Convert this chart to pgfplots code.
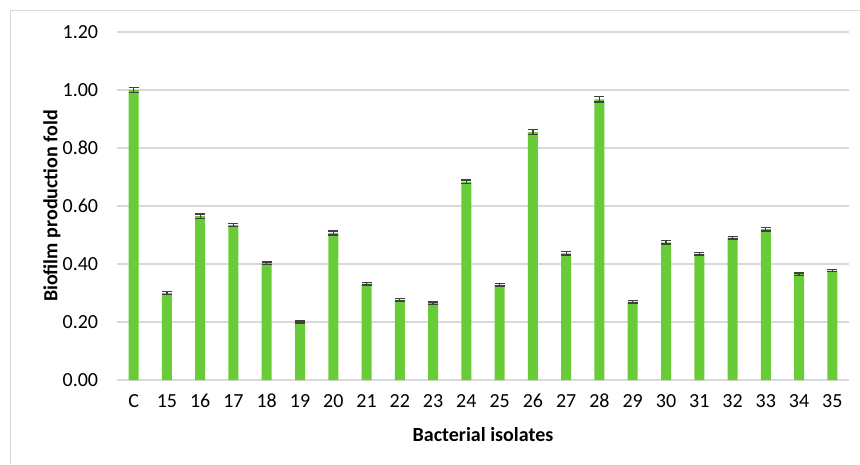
\documentclass[border=0pt]{standalone}
\usepackage{pgfplots}
\pgfplotsset{compat=1.18}
\usepackage{fontspec}
\setmainfont{Carlito}
\definecolor{bargreen}{HTML}{68CC38}
\definecolor{gridgray}{HTML}{D9D9D9}
\definecolor{errgray}{HTML}{404040}
\definecolor{framegray}{HTML}{D9D9D9}
\begin{document}
\fontsize{20}{23}\selectfont
\begin{tikzpicture}[x=1pt,y=1pt]
\path[use as bounding box] (0,0) rectangle (860,464);
\draw[framegray,line width=1.2pt] (10.5,0) -- (10.5,453.5) -- (860,453.5);
\begin{axis}[
  at={(117pt,84pt)}, anchor=south west,
  scale only axis, width=732pt, height=348pt,
  xmin=-0.5, xmax=21.5, ymin=0, ymax=1.2,
  axis line style={draw=none},
  ymajorgrids, grid style={gridgray, line width=1.2pt},
  ytick={0,0.2,0.4,0.6,0.8,1.0,1.2},
  yticklabel style={/pgf/number format/fixed,/pgf/number format/fixed zerofill,/pgf/number format/precision=2, xshift=-12pt},
  /pgf/number format/assume math mode=true,
  xtick=data,
  xticklabels={C,15,16,17,18,19,20,21,22,23,24,25,26,27,28,29,30,31,32,33,34,35},
  xticklabel style={yshift=-6pt, text height=1.5ex, text depth=0pt},
  major tick length=0pt, tick style={draw=none},
  ylabel={\textbf{Biofilm production fold}},
  every axis y label/.style={at={(axis description cs:-0.089,0.5)}, rotate=90, anchor=center},
  every axis x label/.style={at={(axis description cs:0.5,-0.158)}, anchor=center},
  xlabel={\textbf{Bacterial isolates}},
  clip=false,
]
\addplot[ybar, bar width=10pt, fill=bargreen, draw=none,
  error bars/.cd, y dir=both, y explicit,
  error bar style={errgray, line width=1.3pt},
  error mark options={errgray, line width=1.3pt, mark size=5pt, rotate=90}]
  table[x=x, y=y, y error=e] {
x y e
0 1.000 0.009
1 0.300 0.004
2 0.565 0.007
3 0.535 0.005
4 0.403 0.004
5 0.200 0.003
6 0.507 0.007
7 0.332 0.004
8 0.276 0.004
9 0.265 0.004
10 0.684 0.006
11 0.328 0.004
12 0.855 0.008
13 0.437 0.006
14 0.968 0.009
15 0.270 0.004
16 0.475 0.006
17 0.435 0.004
18 0.491 0.005
19 0.520 0.006
20 0.365 0.004
21 0.377 0.004
};
\end{axis}
\end{tikzpicture}
\end{document}
